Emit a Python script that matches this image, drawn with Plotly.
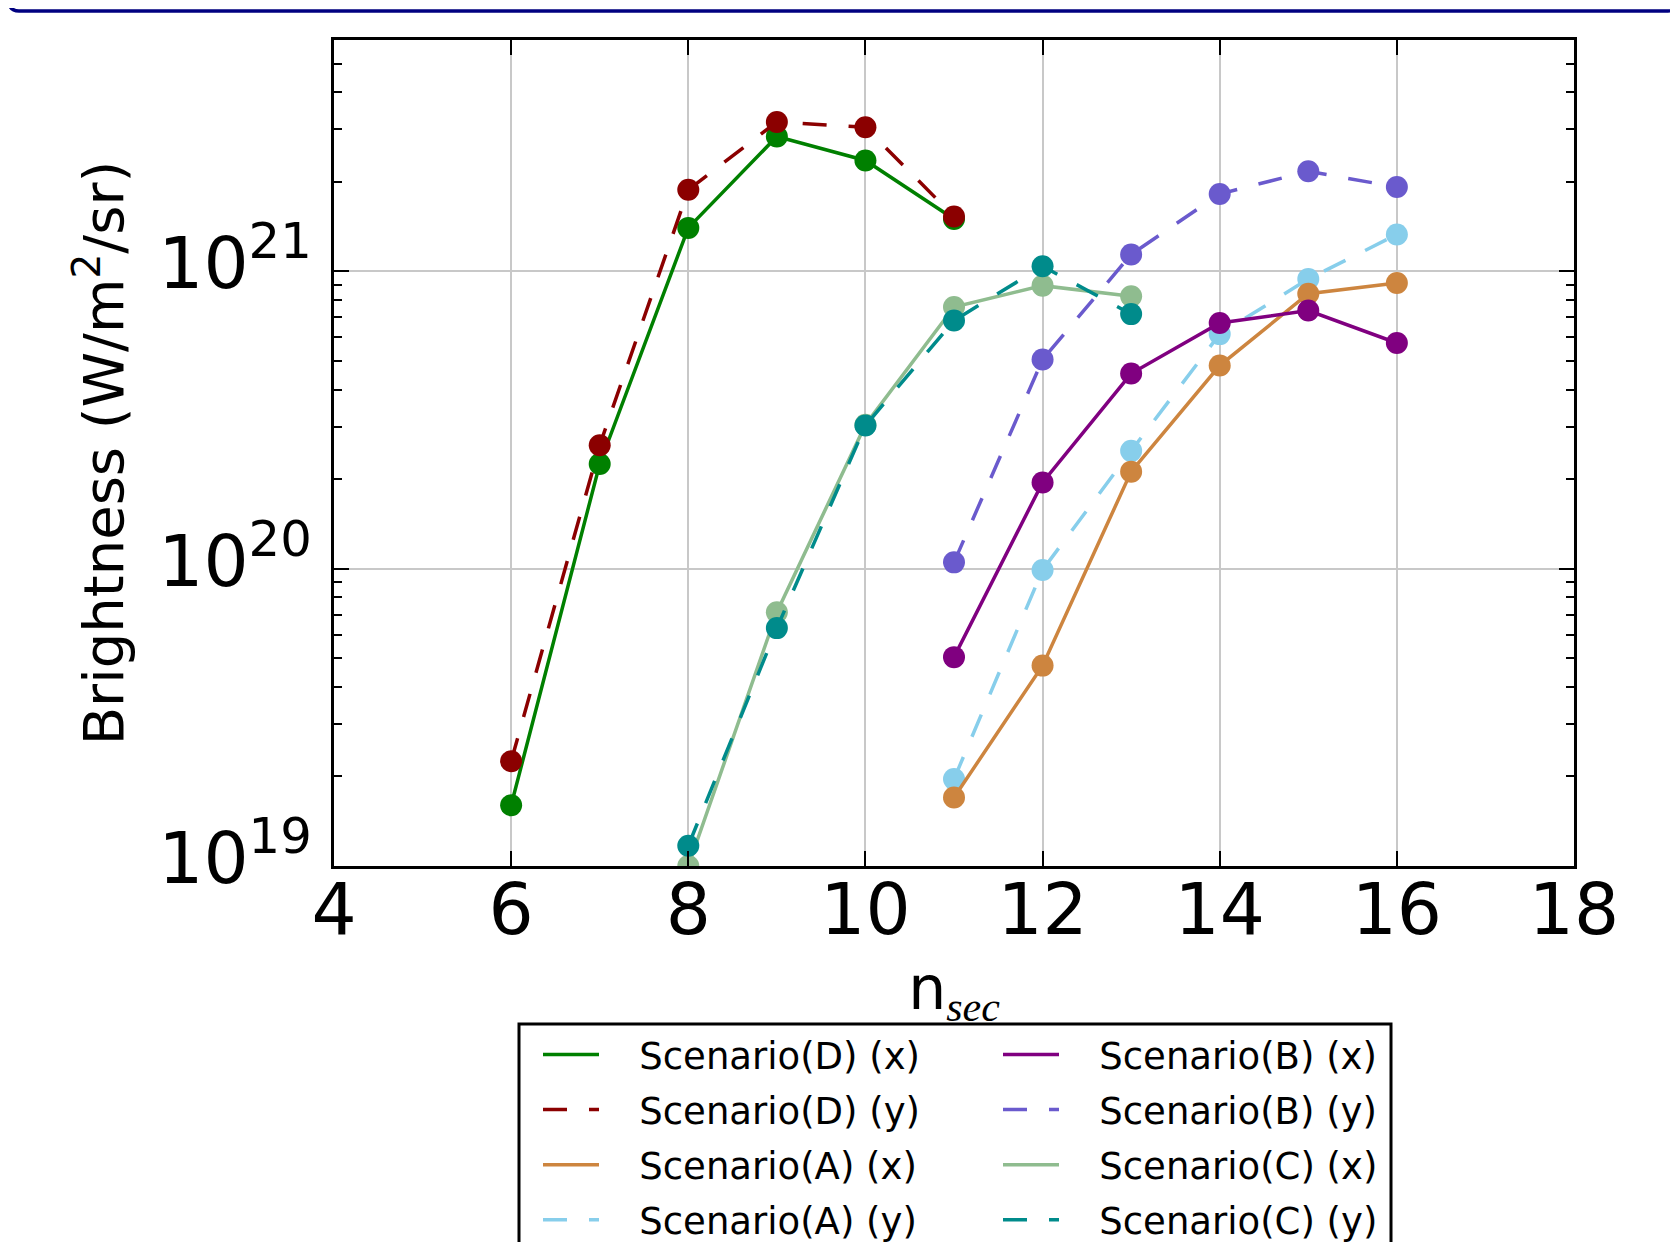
import plotly.graph_objects as go

# ---------------- data ----------------
n_D = [6, 7, 8, 9, 10, 11]
D_x = [1.60e19, 2.25e20, 1.40e21, 2.84e21, 2.36e21, 1.50e21]
D_y = [2.25e19, 2.60e20, 1.88e21, 3.18e21, 3.05e21, 1.53e21]

n_C = [8, 9, 10, 11, 12, 13]
C_x = [1.00e19, 7.14e19, 3.05e20, 7.59e20, 8.95e20, 8.24e20]
C_y = [1.17e19, 6.31e19, 3.03e20, 6.83e20, 1.04e21, 7.18e20]

n_AB = [11, 12, 13, 14, 15, 16]
A_x = [1.70e19, 4.72e19, 2.12e20, 4.82e20, 8.41e20, 9.14e20]
A_y = [1.96e19, 9.90e19, 2.49e20, 6.15e20, 9.42e20, 1.33e21]
B_x = [5.04e19, 1.95e20, 4.53e20, 6.70e20, 7.38e20, 5.74e20]
B_y = [1.05e20, 5.05e20, 1.14e21, 1.82e21, 2.17e21, 1.92e21]

x_ticks = [4, 6, 8, 10, 12, 14, 16, 18]
y_ticks = [1e19, 1e20, 1e21]
y_ticktext = ["10<sup>19</sup>", "10<sup>20</sup>", "10<sup>21</sup>"]

# ---------------- layout geometry (page pixels) ----------------
OFF = 8                       # default body margin of the html page
PAGE_W, PAGE_H = 1678, 1242
FW, FH = PAGE_W - OFF, PAGE_H - OFF
L, R, T, B = 334, 1574, 39.5, 866      # plot area in page pixels
PW, PH = R - L, B - T


def px(xp):
    return (xp - L) / PW


def py(yp):
    return (B - yp) / PH


FONT = "DejaVu Sans"
DASH = "24px,22px"
GAP = "\u00a0\u00a0\u00a0"

series = [
    # name, x, y, color, dash, legend, rank
    ("Scenario(D) (x)", n_D, D_x, "#008000", "solid", "legend", 1),
    ("Scenario(D) (y)", n_D, D_y, "#8B0000", DASH, "legend", 2),
    ("Scenario(C) (x)", n_C, C_x, "#8FBC8F", "solid", "legend2", 3),
    ("Scenario(C) (y)", n_C, C_y, "#008B8B", DASH, "legend2", 4),
    ("Scenario(A) (y)", n_AB, A_y, "#87CEEB", DASH, "legend", 4),
    ("Scenario(A) (x)", n_AB, A_x, "#CD853F", "solid", "legend", 3),
    ("Scenario(B) (y)", n_AB, B_y, "#6A5ACD", DASH, "legend2", 2),
    ("Scenario(B) (x)", n_AB, B_x, "#800080", "solid", "legend2", 1),
]

fig = go.Figure()
for name, xs, ys, col, dash, leg, rank in series:
    fig.add_trace(go.Scatter(
        x=xs, y=ys, name=GAP + name, mode="lines",
        line=dict(color=col, width=3.5, dash=dash),
        legend=leg, legendrank=rank, legendgroup=name,
    ))
    fig.add_trace(go.Scatter(
        x=xs, y=ys, name=name, mode="markers",
        marker=dict(color=col, size=22, line=dict(width=0)),
        legend=leg, legendgroup=name, showlegend=False,
    ))

legend_common = dict(
    font=dict(family=FONT, size=37, color="black"),
    bgcolor="rgba(0,0,0,0)", borderwidth=0,
    xanchor="left", yanchor="top", orientation="v",
    itemwidth=56, tracegroupgap=4,
)

fig.update_layout(
    width=FW, height=FH,
    margin=dict(l=L - OFF, r=FW - (R - OFF), t=T - OFF, b=FH - (B - OFF),
                pad=0, autoexpand=False),
    paper_bgcolor="white", plot_bgcolor="white",
    font=dict(family=FONT, color="black"),
    showlegend=True,
    legend=dict(x=px(538), y=py(1024), **legend_common),
    legend2=dict(x=px(998), y=py(1024), **legend_common),
    xaxis=dict(
        range=[4, 18], tickvals=x_ticks, ticktext=[str(v) for v in x_ticks],
        showgrid=True, gridcolor="#c8c8c8", gridwidth=2,
        showline=True, linecolor="black", linewidth=3, mirror="allticks",
        ticks="inside", ticklen=15, tickwidth=2, tickcolor="black",
        tickfont=dict(family=FONT, size=71, color="black"),
        ticklabelstandoff=-20,
        zeroline=False,
        title=dict(text="n<sub><span style=\"font-family:'Liberation Serif'\"><i>sec</i></span></sub>",
                   font=dict(family=FONT, size=60, color="black"), standoff=17),
    ),
    yaxis=dict(
        type="log", range=[19, 21.778],
        tickvals=y_ticks, ticktext=y_ticktext,
        showgrid=True, gridcolor="#c8c8c8", gridwidth=2,
        showline=True, linecolor="black", linewidth=3, mirror="allticks",
        ticks="inside", ticklen=15, tickwidth=2, tickcolor="black",
        tickfont=dict(family=FONT, size=71, color="black"),
        ticklabelstandoff=5, ticklabelshift=-8,
        zeroline=False,
        minor=dict(dtick="D1", ticks="inside", ticklen=8, tickwidth=2,
                   tickcolor="black", showgrid=False),
        title=dict(text="Brightness (W/m<sup>2</sup>/sr)",
                   font=dict(family=FONT, size=56, color="black"), standoff=17),
    ),
)

# legend frame (two columns in one box)
fig.add_shape(type="rect", xref="paper", yref="paper",
              x0=px(519), x1=px(1391), y0=py(1300), y1=py(1024),
              line=dict(color="black", width=3), fillcolor="rgba(0,0,0,0)",
              layer="above")

# navy rounded frame edge at the very top of the page
path = (f"M {px(9)},{py(-5)} L {px(9)},{py(0)} Q {px(9)},{py(10.5)} {px(19)},{py(10.5)} "
        f"L {px(1668)},{py(10.5)} Q {px(1676)},{py(10.5)} {px(1676)},{py(0)} L {px(1676)},{py(-5)}")
fig.add_shape(type="path", xref="paper", yref="paper", path=path,
              line=dict(color="#000080", width=3.5), layer="above")

fig.write_html("out.html")
